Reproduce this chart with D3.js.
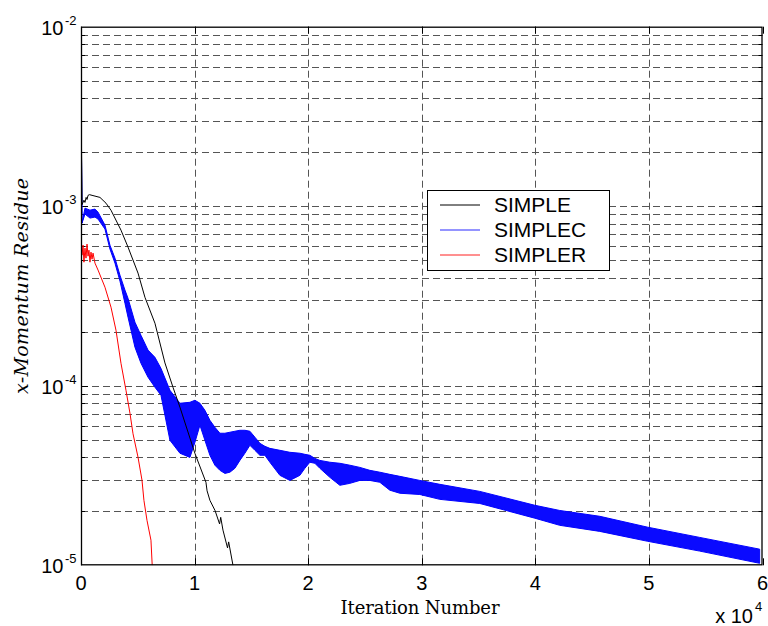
<!DOCTYPE html>
<html>
<head>
<meta charset="utf-8">
<script src="https://cdn.jsdelivr.net/npm/d3@7"></script>
<style>
  body { margin: 0; background: #fff; }
  svg { display: block; }
</style>
</head>
<body>
<div id="chart"></div>
<script>
const width = 768;
const height = 626;
const margin = {left: 81, right: 5, top: 26.7, bottom: 60.7};

// x tick labels (units of 1e4 iterations)
const xTickLabels = [0, 1, 2, 3, 4, 5, 6];

// SIMPLE (black)
const simpleIter = [0, 90, 260, 350, 450, 530, 620, 750, 970, 1670, 2200, 2640, 3520, 4140, 5020, 5630, 6510, 7390, 8100, 8710, 10030, 11000, 11100, 11350, 11800, 12200, 12300, 12500, 12900, 13000, 13380];
const simpleRes = [4.27e-3, 1.02e-3, 1.08e-3, 1.05e-3, 1.12e-3, 1.09e-3, 1.15e-3, 1.16e-3, 1.15e-3, 1.12e-3, 1.04e-3, 9.5e-4, 7.36e-4, 5.92e-4, 4.24e-4, 3.11e-4, 2.23e-4, 1.34e-4, 9.8e-5, 7.6e-5, 4.2e-5, 2.9e-5, 2.6e-5, 2.3e-5, 2.02e-5, 1.7e-5, 1.85e-5, 1.57e-5, 1.25e-5, 1.35e-5, 1.0e-5];

// SIMPLEC (blue) - oscillating band: upper and lower envelopes
const simplecIter = [0, 90, 350, 790, 1230, 1500, 2110, 2550, 2990, 3430, 3870, 4140, 4750, 5280, 5900, 6510, 7040, 7830, 8710, 9590, 10030, 10470, 10910, 11350, 11790, 12230, 12670, 13110, 13550, 13990, 14430, 14870, 15310, 15750, 16190, 16630, 17510, 18390, 19270, 19710, 20150, 20590, 21030, 21910, 22790, 23670, 24550, 25430, 26310, 27190, 28070, 29830, 31590, 35110, 39950, 42150, 45670, 49900, 54470, 59750];
const simplecUpper = [4.27e-3, 8.05e-4, 9.76e-4, 9.51e-4, 9.64e-4, 9.27e-4, 7.85e-4, 6.07e-4, 5.14e-4, 4.13e-4, 3.41e-4, 3.07e-4, 2.26e-4, 1.91e-4, 1.58e-4, 1.44e-4, 1.25e-4, 9.44e-5, 7.99e-5, 8.09e-5, 8.30e-5, 7.99e-5, 7.30e-5, 6.42e-5, 5.87e-5, 5.44e-5, 5.44e-5, 5.51e-5, 5.58e-5, 5.65e-5, 5.65e-5, 5.58e-5, 5.17e-5, 4.78e-5, 4.60e-5, 4.48e-5, 4.37e-5, 4.26e-5, 4.21e-5, 4.15e-5, 4.10e-5, 3.94e-5, 3.84e-5, 3.75e-5, 3.70e-5, 3.61e-5, 3.51e-5, 3.38e-5, 3.30e-5, 3.21e-5, 3.13e-5, 2.97e-5, 2.825e-5, 2.58e-5, 2.16e-5, 2.02e-5, 1.875e-5, 1.63e-5, 1.43e-5, 1.23e-5];
const simplecLower = [4.27e-3, 8.05e-4, 9.04e-4, 8.59e-4, 8.70e-4, 8.48e-4, 7.46e-4, 5.77e-4, 4.82e-4, 3.83e-4, 2.88e-4, 2.41e-4, 1.64e-4, 1.335e-4, 1.116e-4, 9.81e-5, 8.86e-5, 4.97e-5, 4.21e-5, 3.99e-5, 4.84e-5, 6.03e-5, 4.97e-5, 4.10e-5, 3.61e-5, 3.38e-5, 3.25e-5, 3.30e-5, 3.47e-5, 3.84e-5, 4.21e-5, 4.66e-5, 4.37e-5, 4.10e-5, 4.10e-5, 3.75e-5, 3.17e-5, 2.97e-5, 3.17e-5, 3.47e-5, 3.75e-5, 3.70e-5, 3.47e-5, 3.09e-5, 2.79e-5, 2.86e-5, 2.97e-5, 2.97e-5, 2.90e-5, 2.62e-5, 2.52e-5, 2.48e-5, 2.33e-5, 2.21e-5, 1.83e-5, 1.67e-5, 1.545e-5, 1.36e-5, 1.20e-5, 1.026e-5];

// SIMPLER (red)
const simplerIter = [0, 25, 90, 180, 260, 350, 440, 530, 620, 700, 790, 880, 970, 1060, 1230, 1500, 2110, 2640, 3080, 3520, 3960, 4310, 4580, 5020, 5370, 5540, 5810, 6160, 6270];
const simplerRes = [4.27e-3, 6.48e-4, 5.34e-4, 6.07e-4, 4.88e-4, 5.84e-4, 5.14e-4, 6.15e-4, 5.27e-4, 5.69e-4, 4.88e-4, 5.55e-4, 5.07e-4, 5.48e-4, 4.82e-4, 4.41e-4, 3.54e-4, 2.74e-4, 2.04e-4, 1.335e-4, 9.44e-5, 7.03e-5, 5.4e-5, 4.0e-5, 2.98e-5, 2.3e-5, 1.78e-5, 1.38e-5, 1.0e-5];

const legendNames = ["SIMPLE", "SIMPLEC", "SIMPLER"];
const legendColors = ["#000000", "#7070ff", "#ff2020"];

const svg = d3.select("#chart")
    .append("svg")
    .attr("width", width)
    .attr("height", height);

const x = d3.scaleLinear()
    .domain([0, 60000])
    .range([margin.left, width - margin.right - 0.5]);
const y = d3.scaleLog()
    .domain([1e-5, 1e-2])
    .range([height - margin.bottom, margin.top]);

const x0 = x.range()[0], x1 = x.range()[1];
const y0 = y.range()[0], y1 = y.range()[1];

svg.append("defs").append("clipPath")
    .attr("id", "plot-clip")
    .append("rect")
    .attr("x", x0).attr("y", y1)
    .attr("width", x1 - x0).attr("height", y0 - y1);

// horizontal grid (log minor + major)
const yGrid = y.ticks().filter(v => v > 1e-5 * 1.0001 && v < 1e-2 * 0.9999);
svg.append("g")
    .attr("class", "ygrid")
    .selectAll("line")
    .data(yGrid)
    .enter()
    .append("line")
    .attr("x1", x0).attr("x2", x1)
    .attr("y1", d => Math.round(y(d)) + 0.5)
    .attr("y2", d => Math.round(y(d)) + 0.5)
    .attr("stroke", "#555")
    .attr("stroke-width", 1)
    .attr("stroke-dasharray", "7,4");

// vertical grid
svg.append("g")
    .attr("class", "xgrid")
    .selectAll("line")
    .data(xTickLabels.slice(1, -1))
    .enter()
    .append("line")
    .attr("x1", d => Math.round(x(d * 1e4)) + 0.5)
    .attr("x2", d => Math.round(x(d * 1e4)) + 0.5)
    .attr("y1", y1).attr("y2", y0)
    .attr("stroke", "#555")
    .attr("stroke-width", 1)
    .attr("stroke-dasharray", "7,4");

// inner ticks
const tickG = svg.append("g").attr("stroke", "#000").attr("stroke-width", 1);
yGrid.forEach(v => {
    const yy = Math.round(y(v)) + 0.5;
    const len = [1e-4, 1e-3].some(m => Math.abs(v - m) / m < 1e-6) ? 7 : 4;
    tickG.append("line").attr("x1", x0).attr("x2", x0 + len).attr("y1", yy).attr("y2", yy);
    tickG.append("line").attr("x1", x1 - len).attr("x2", x1).attr("y1", yy).attr("y2", yy);
});
xTickLabels.forEach(d => {
    const xx = Math.round(x(d * 1e4)) + 0.5;
    tickG.append("line").attr("x1", xx).attr("x2", xx).attr("y1", y0).attr("y2", y0 - 7);
    tickG.append("line").attr("x1", xx).attr("x2", xx).attr("y1", y1).attr("y2", y1 + 7);
});

const plot = svg.append("g").attr("clip-path", "url(#plot-clip)");

// SIMPLEC band
const blueData = simplecIter.map((it, i) => ({it, hi: simplecUpper[i], lo: simplecLower[i]}));
plot.append("path")
    .datum(blueData)
    .attr("d", d3.area()
        .x(d => x(d.it))
        .y0(d => y(d.lo))
        .y1(d => y(d.hi)))
    .attr("fill", "#0a0aff")
    .attr("stroke", "#0000ff")
    .attr("stroke-width", 1)
    .attr("stroke-linejoin", "round");

// SIMPLE line
const line = d3.line().x(d => x(d[0])).y(d => y(d[1]));
plot.append("path")
    .datum(simpleIter.map((it, i) => [it, simpleRes[i]]))
    .attr("d", line)
    .attr("fill", "none")
    .attr("stroke", "#000")
    .attr("stroke-width", 1);

// SIMPLER line
plot.append("path")
    .datum(simplerIter.map((it, i) => [it, simplerRes[i]]))
    .attr("d", line)
    .attr("fill", "none")
    .attr("stroke", "#ff0000")
    .attr("stroke-width", 1);

// frame
svg.append("rect")
    .attr("x", x0 + 0.5).attr("y", y1 + 0.5)
    .attr("width", x1 - x0 - 1).attr("height", y0 - y1 - 1)
    .attr("fill", "none")
    .attr("stroke", "#000")
    .attr("stroke-width", 1.3);

// y tick labels 10^k
const yLabels = [1e-2, 1e-3, 1e-4, 1e-5];
const yl = svg.append("g").attr("font-family", "Liberation Sans, Arial, Helvetica, sans-serif").attr("fill", "#000");
yLabels.forEach(v => {
    const yy = y(v);
    yl.append("text").attr("x", 63.5).attr("y", yy + 8).attr("text-anchor", "end")
        .attr("font-size", 20).text("10");
    yl.append("text").attr("x", 65).attr("y", yy - 2).attr("font-size", 13)
        .text("-" + Math.round(-Math.log10(v)));
});

// x tick labels
yl.selectAll(".xt")
    .data(xTickLabels)
    .enter()
    .append("text")
    .attr("x", d => x(d * 1e4))
    .attr("y", y0 + 25)
    .attr("text-anchor", "middle")
    .attr("font-size", 20)
    .text(d => d);
yl.append("text").attr("x", 753).attr("y", 623).attr("text-anchor", "end").attr("font-size", 20).text("x 10");
yl.append("text").attr("x", 755).attr("y", 611).attr("font-size", 13).text("4");

// axis titles
svg.append("text")
    .attr("x", 420).attr("y", 614)
    .attr("text-anchor", "middle")
    .attr("font-family", "DejaVu Serif, Liberation Serif, serif")
    .attr("font-size", 18)
    .attr("textLength", 159)
    .text("Iteration Number");
svg.append("text")
    .attr("transform", "translate(28,286) rotate(-90)")
    .attr("text-anchor", "middle")
    .attr("font-family", "DejaVu Serif, Liberation Serif, serif")
    .attr("font-style", "italic")
    .attr("font-size", 19)
    .attr("textLength", 216)
    .text("x-Momentum Residue");

// legend
const lg = svg.append("g").attr("transform", "translate(427,190)");
lg.append("rect").attr("x", 0.5).attr("y", 0.5).attr("width", 182).attr("height", 80)
    .attr("fill", "#fff").attr("stroke", "#000").attr("stroke-width", 1);
legendNames.forEach((name, i) => {
    const cy = 15 + i * 25;
    lg.append("line").attr("x1", 13).attr("x2", 53).attr("y1", cy).attr("y2", cy)
        .attr("stroke", legendColors[i]).attr("stroke-width", i === 1 ? 1.6 : 1);
    lg.append("text").attr("x", 67).attr("y", cy + 7)
        .attr("font-family", "Liberation Sans, Arial, Helvetica, sans-serif")
        .attr("font-size", 21).text(name);
});
</script>
</body>
</html>
